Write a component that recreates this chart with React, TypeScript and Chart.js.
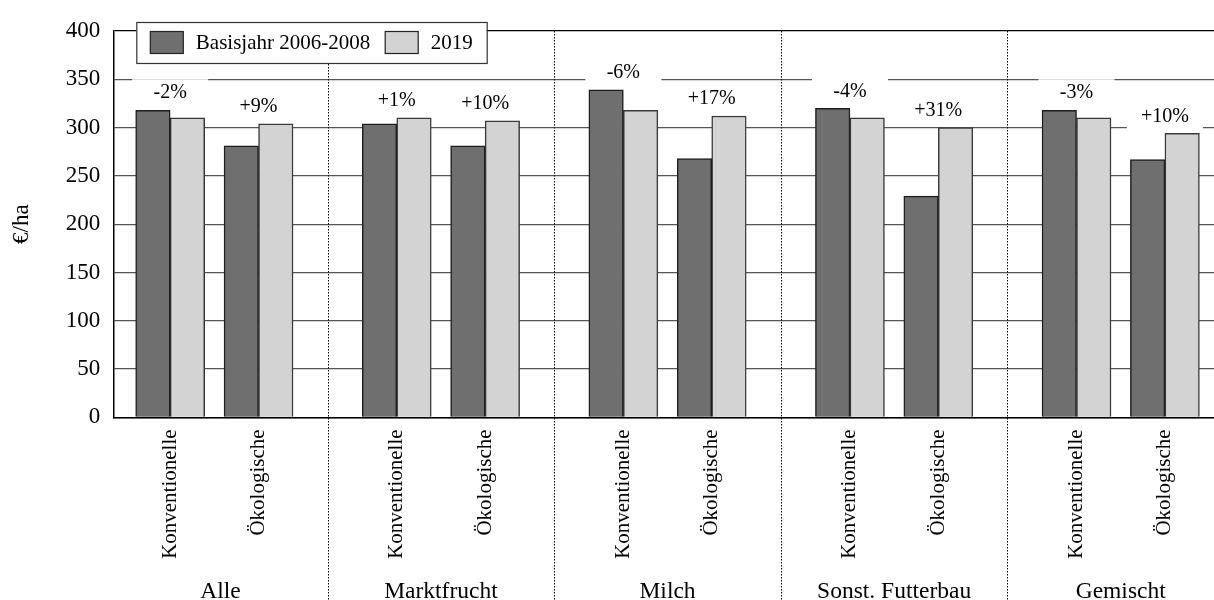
import React, { useEffect, useRef } from 'react';
import { Chart, registerables } from 'chart.js';

Chart.register(...registerables);

const groups = ['Alle', 'Marktfrucht', 'Milch', 'Sonst. Futterbau', 'Gemischt'];
const farmTypes = ['Konventionelle', 'Ökologische'];
const seriesNames = ['Basisjahr 2006-2008', '2019'];
const baseValues = [318, 281, 304, 281, 339, 268, 320, 229, 318, 267];
const values2019 = [310, 304, 310, 307, 318, 312, 310, 300, 310, 294];
const changeLabels = ['-2%', '+9%', '+1%', '+10%', '-6%', '+17%', '-4%', '+31%', '-3%', '+10%'];

const FONT = '"Liberation Serif", "Times New Roman", serif';
const DARK = '#6f6f6f';
const LIGHT = '#d3d3d3';
const PAIR_OFFSET = 0.195;

const xPos = (i: number) => Math.floor(i / 2) + (i % 2 === 0 ? -PAIR_OFFSET : PAIR_OFFSET);
const tickValues = baseValues.map((_, i) => xPos(i));

const overlayPlugin = {
  id: 'overlay',
  afterDraw(chart: any) {
    const { ctx, chartArea, scales } = chart;
    const xs = scales.x;
    const ys = scales.y;
    ctx.save();

    // change labels with white boxes
    ctx.font = `20px ${FONT}`;
    ctx.textAlign = 'center';
    ctx.textBaseline = 'middle';
    changeLabels.forEach((lab, i) => {
      const cx = xs.getPixelForValue(xPos(i));
      const top = ys.getPixelForValue(Math.max(baseValues[i], values2019[i]));
      const cy = top - 17;
      ctx.fillStyle = '#fff';
      ctx.fillRect(cx - 38, cy - 14, 76, 28);
      ctx.fillStyle = '#000';
      ctx.fillText(lab, cx, cy);
    });

    // dotted group separators
    ctx.strokeStyle = '#000';
    ctx.lineWidth = 1;
    ctx.setLineDash([1.5, 1.5]);
    for (let g = 0; g < groups.length - 1; g++) {
      const x = Math.round(xs.getPixelForValue(g + 0.5)) + 0.5;
      ctx.beginPath();
      ctx.moveTo(x, chartArea.top);
      ctx.lineTo(x, chart.height);
      ctx.stroke();
    }
    ctx.setLineDash([]);

    // group labels
    ctx.font = `23.5px ${FONT}`;
    ctx.textAlign = 'center';
    ctx.textBaseline = 'alphabetic';
    ctx.fillStyle = '#000';
    groups.forEach((g, gi) => {
      const l = Math.max(chartArea.left, xs.getPixelForValue(gi - 0.5));
      const r = Math.min(chartArea.right, xs.getPixelForValue(gi + 0.5));
      ctx.fillText(g, (l + r) / 2, chart.height - 2);
    });

    // legend
    ctx.font = `21px ${FONT}`;
    const w1 = ctx.measureText(seriesNames[0]).width;
    const w2 = ctx.measureText(seriesNames[1]).width;
    const boxL = chartArea.left + 23;
    const boxT = chartArea.top - 9;
    const boxH = 41;
    const sw = 33, sh = 22, pad = 14, gapT = 12.5, gapS = 15;
    const boxW = pad + sw + gapT + w1 + gapS + sw + gapT + w2 + pad;
    ctx.fillStyle = '#fff';
    ctx.fillRect(boxL, boxT, boxW, boxH);
    ctx.strokeStyle = '#333';
    ctx.lineWidth = 1.2;
    ctx.strokeRect(boxL + 0.5, boxT + 0.5, boxW, boxH);
    const cy = boxT + boxH / 2;
    let x = boxL + pad;
    [DARK, LIGHT].forEach((col, k) => {
      ctx.fillStyle = col;
      ctx.fillRect(x, cy - sh / 2, sw, sh);
      ctx.strokeStyle = '#222';
      ctx.lineWidth = 1.2;
      ctx.strokeRect(x, cy - sh / 2, sw, sh);
      x += sw + gapT;
      ctx.fillStyle = '#000';
      ctx.textAlign = 'left';
      ctx.textBaseline = 'middle';
      ctx.fillText(seriesNames[k], x, cy + 1);
      x += (k === 0 ? w1 : w2) + gapS;
    });

    ctx.restore();
  },
};

export default function App() {
  const canvasRef = useRef<HTMLCanvasElement | null>(null);

  useEffect(() => {
    const canvas = canvasRef.current;
    if (!canvas) return;
    Chart.defaults.font.family = FONT;
    Chart.defaults.color = '#000';
    const chart = new Chart(canvas, {
      type: 'bar',
      data: {
        datasets: [
          {
            label: seriesNames[0],
            data: baseValues.map((v, i) => ({ x: xPos(i), y: v })),
            backgroundColor: DARK,
            borderColor: '#1e1e1e',
            borderWidth: 1.5,
            barThickness: 34.5,
          },
          {
            label: seriesNames[1],
            data: values2019.map((v, i) => ({ x: xPos(i), y: v })),
            backgroundColor: LIGHT,
            borderColor: '#3a3a3a',
            borderWidth: 1.5,
            barThickness: 34.5,
          },
        ],
      } as any,
      options: {
        responsive: false,
        maintainAspectRatio: false,
        animation: false,
        layout: { padding: { top: 31, left: 0, right: 0, bottom: 0 } },
        plugins: {
          legend: { display: false },
          tooltip: { enabled: false },
        },
        scales: {
          x: {
            type: 'linear',
            min: -0.446,
            max: 4.5,
            offset: false,
            grid: { display: false, drawTicks: false },
            border: { display: true, color: '#000', width: 1.5 },
            afterBuildTicks: (s: any) => {
              s.ticks = tickValues.map((v) => ({ value: v }));
            },
            afterFit: (s: any) => {
              s.height = 182.6;
            },
            ticks: {
              autoSkip: false,
              minRotation: 90,
              maxRotation: 90,
              padding: 12,
              color: '#000',
              font: { size: 21 },
              callback: (_v: any, idx: number) => farmTypes[idx % 2],
            },
          },
          y: {
            min: 0,
            max: 400,
            ticks: { stepSize: 50, padding: 13, color: '#000', font: { size: 23 } },
            grid: {
              color: (c: any) => (c.tick && c.tick.value === 400 ? '#000' : '#555'),
              lineWidth: 1.2,
              drawTicks: false,
            },
            border: { color: '#000', width: 1.5 },
            title: {
              display: true,
              text: '€/ha',
              color: '#000',
              font: { size: 23 },
              padding: { top: 8, bottom: 0 },
            },
            afterFit: (s: any) => {
              s.width = 113.3;
            },
          },
        } as any,
      },
      plugins: [overlayPlugin],
    });
    return () => chart.destroy();
  }, []);

  return (
    <div
      style={{
        position: 'fixed',
        left: 0,
        top: 0,
        width: 1214,
        height: 600,
        overflow: 'hidden',
        background: '#fff',
      }}
    >
      <canvas ref={canvasRef} width={1234} height={600} style={{ display: 'block' }} />
    </div>
  );
}
